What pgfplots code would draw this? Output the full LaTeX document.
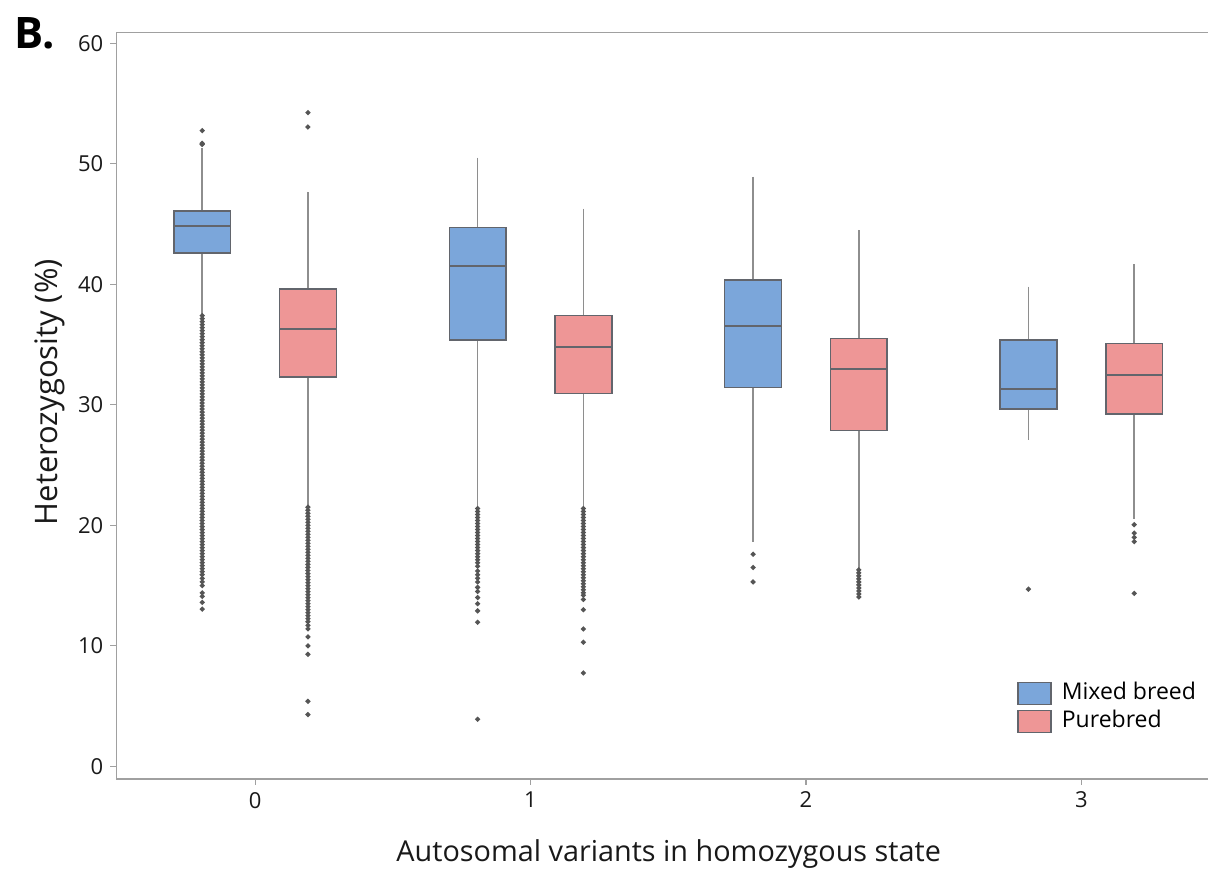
\documentclass[border=0pt]{standalone}
\usepackage{fontspec}
\setmainfont{Open Sans}
\usepackage{pgfplots}
\pgfplotsset{compat=1.18}
\usepgfplotslibrary{statistics}

\definecolor{mixblue}{HTML}{7BA6DA}
\definecolor{purered}{HTML}{EE9696}
\definecolor{boxedge}{HTML}{62656C}
\definecolor{whiskgray}{HTML}{8E8E8E}
\definecolor{outgray}{HTML}{555555}
\definecolor{axisgray}{HTML}{A0A0A0}

\pgfplotsset{
  bxstyle/.style={
    draw=boxedge, line width=0.75pt,
    mark=*, mark size=0.85pt,
    mark options={draw=outgray, fill=outgray},
  },
}

\begin{document}
\begin{tikzpicture}
\begin{axis}[
  scale only axis, width=545.85pt, height=373.35pt,
  xmin=-0.504, xmax=3.46, ymin=-1.05, ymax=60.91,
  axis lines*=left,
  axis line style={draw=axisgray, line width=0.75pt},
  tick align=outside, major tick length=3pt,
  tick style={draw=axisgray, line width=0.6pt},
  xtick={0,1,2,3}, ytick={0,10,...,60},
  tick label style={font=\fontsize{11}{13}\selectfont, text=black!90},
  /pgf/number format/assume math mode=true,
  xlabel={Autosomal variants in homozygous state},
  ylabel={Heterozygosity (\%)},
  xlabel style={font=\fontsize{14.4}{16}\selectfont, text=black!90,
    at={(axis description cs:0.506,0)}, anchor=base, yshift=-41.5pt},
  ylabel style={font=\fontsize{15.5}{17}\selectfont, text=black!90,
    at={(axis description cs:-0.0535,0.518)}, anchor=base},
  legend style={at={(0.825,0.059)}, anchor=south west, draw=none, fill=none,
    inner sep=0pt, column sep=4pt, row sep=1pt,
    font=\fontsize{11.5}{13}\selectfont,
    nodes={inner sep=1pt, text height=8.5pt, text depth=2.5pt}},
  legend cell align=left,
  legend image code/.code={\draw[#1] (0pt,-5.5pt) rectangle (16.5pt,5.5pt);},
  boxplot/draw direction=y,
  boxplot/whisker extend=0,
  boxplot/box extend=0.206,
  boxplot/every whisker/.style={draw=whiskgray, line width=0.8pt},
  boxplot/every median/.style={draw=boxedge, line width=1.1pt},
]
% --- category 0
\addplot+[forget plot, bxstyle, fill=mixblue, boxplot prepared={draw position=-0.192,
  median=44.86, upper quartile=46.08, lower quartile=42.6,
  upper whisker=51.3, lower whisker=37.45}]
  table[row sep=\\, y index=0] {data\\ 52.75\\ 51.7\\ 51.6\\
  37.4\\ 37.15\\ 36.9\\ 36.65\\ 36.4\\ 36.15\\ 35.9\\ 35.65\\ 35.4\\ 35.15\\
  34.9\\ 34.65\\ 34.4\\ 34.15\\ 33.9\\ 33.65\\ 33.4\\ 33.15\\ 32.9\\ 32.65\\
  32.4\\ 32.15\\ 31.9\\ 31.65\\ 31.4\\ 31.15\\ 30.9\\ 30.65\\ 30.4\\ 30.15\\
  29.9\\ 29.65\\ 29.4\\ 29.15\\ 28.9\\ 28.65\\ 28.4\\ 28.15\\ 27.9\\ 27.65\\
  27.4\\ 27.15\\ 26.9\\ 26.65\\ 26.4\\ 26.15\\ 25.9\\ 25.65\\ 25.4\\ 25.15\\
  24.9\\ 24.65\\ 24.4\\ 24.15\\ 23.9\\ 23.65\\ 23.4\\ 23.15\\ 22.9\\ 22.65\\
  22.4\\ 22.15\\ 21.9\\ 21.65\\ 21.4\\ 21.15\\ 20.9\\ 20.65\\ 20.4\\ 20.15\\
  19.9\\ 19.65\\ 19.4\\ 19.15\\ 18.9\\ 18.65\\ 18.4\\ 18.15\\ 17.9\\ 17.65\\
  17.4\\ 17.15\\ 16.9\\ 16.65\\ 16.4\\ 16.15\\ 15.9\\ 15.6\\ 15.3\\ 15.0\\
  14.4\\ 14.1\\ 13.6\\ 13.05\\};
\addplot+[forget plot, bxstyle, fill=purered, boxplot prepared={draw position=0.192,
  median=36.32, upper quartile=39.61, lower quartile=32.31,
  upper whisker=47.69, lower whisker=21.55}]
  table[row sep=\\, y index=0] {data\\ 54.25\\ 53.05\\
  21.5\\ 21.25\\ 21.0\\ 20.75\\ 20.5\\ 20.25\\ 20.0\\ 19.75\\ 19.5\\ 19.25\\
  19.0\\ 18.75\\ 18.5\\ 18.25\\ 18.0\\ 17.75\\ 17.5\\ 17.25\\ 17.0\\ 16.75\\
  16.5\\ 16.25\\ 16.0\\ 15.75\\ 15.5\\ 15.25\\ 15.0\\ 14.75\\ 14.5\\ 14.25\\
  14.0\\ 13.75\\ 13.5\\ 13.25\\ 13.0\\ 12.75\\ 12.5\\ 12.25\\ 12.0\\ 11.7\\
  11.4\\ 10.75\\ 10.0\\ 9.3\\ 5.4\\ 4.3\\};
% --- category 1
\addplot+[forget plot, bxstyle, fill=mixblue, boxplot prepared={draw position=0.808,
  median=41.49, upper quartile=44.73, lower quartile=35.38,
  upper whisker=50.5, lower whisker=21.45}]
  table[row sep=\\, y index=0] {data\\
  21.4\\ 21.15\\ 20.9\\ 20.65\\ 20.4\\ 20.15\\ 19.9\\ 19.65\\ 19.4\\ 19.15\\
  18.9\\ 18.65\\ 18.4\\ 18.15\\ 17.9\\ 17.65\\ 17.4\\ 17.15\\ 16.9\\ 16.6\\
  16.2\\ 15.9\\ 15.6\\ 15.3\\ 14.85\\ 14.5\\ 14.0\\ 13.5\\ 12.9\\ 11.95\\ 3.9\\};
\addplot+[forget plot, bxstyle, fill=purered, boxplot prepared={draw position=1.192,
  median=34.82, upper quartile=37.43, lower quartile=30.95,
  upper whisker=46.27, lower whisker=21.45}]
  table[row sep=\\, y index=0] {data\\
  21.4\\ 21.15\\ 20.9\\ 20.65\\ 20.4\\ 20.15\\ 19.9\\ 19.65\\ 19.4\\ 19.15\\
  18.9\\ 18.65\\ 18.4\\ 18.15\\ 17.9\\ 17.65\\ 17.4\\ 17.15\\ 16.9\\ 16.65\\
  16.4\\ 16.15\\ 15.9\\ 15.65\\ 15.4\\ 15.15\\ 14.9\\ 14.65\\ 14.4\\ 14.2\\
  13.85\\ 13.0\\ 11.4\\ 10.3\\ 7.75\\};
% --- category 2
\addplot+[forget plot, bxstyle, fill=mixblue, boxplot prepared={draw position=1.808,
  median=36.54, upper quartile=40.36, lower quartile=31.42,
  upper whisker=48.93, lower whisker=18.64}]
  table[row sep=\\, y index=0] {data\\ 17.6\\ 16.5\\ 15.3\\};
\addplot+[forget plot, bxstyle, fill=purered, boxplot prepared={draw position=2.192,
  median=32.94, upper quartile=35.52, lower quartile=27.85,
  upper whisker=44.51, lower whisker=16.4}]
  table[row sep=\\, y index=0] {data\\ 16.3\\ 16.05\\ 15.8\\ 15.55\\ 15.3\\
  15.05\\ 14.8\\ 14.55\\ 14.3\\ 14.05\\};
% --- category 3
\addplot+[forget plot, bxstyle, fill=mixblue, boxplot prepared={draw position=2.808,
  median=31.31, upper quartile=35.38, lower quartile=29.65,
  upper whisker=39.8, lower whisker=27.08}]
  table[row sep=\\, y index=0] {data\\ 14.7\\};
\addplot+[forget plot, bxstyle, fill=purered, boxplot prepared={draw position=3.192,
  median=32.47, upper quartile=35.07, lower quartile=29.24,
  upper whisker=41.68, lower whisker=20.52}]
  table[row sep=\\, y index=0] {data\\ 20.05\\ 19.35\\ 19.0\\ 18.65\\ 14.35\\};

\addlegendimage{draw=boxedge, line width=0.75pt, fill=mixblue}
\addlegendentry{Mixed breed}
\addlegendimage{draw=boxedge, line width=0.75pt, fill=purered}
\addlegendentry{Purebred}

\draw[axisgray, line width=0.75pt] (rel axis cs:0,1) -- (rel axis cs:1,1);
\end{axis}
\node[anchor=base west, inner sep=0pt, font=\fontsize{21.7}{24}\selectfont\bfseries]
  at (-51pt,365.45pt) {B.};
\pgfresetboundingbox
\path (-58.15pt,-46pt) rectangle (546.85pt,389.5pt);
\end{tikzpicture}
\end{document}
